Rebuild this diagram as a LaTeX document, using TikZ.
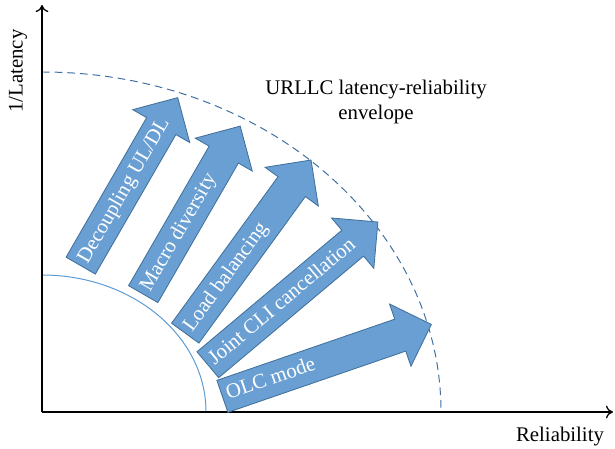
\documentclass[tikz,border=0pt]{standalone}
\usepackage{fontspec}
\setmainfont{Liberation Serif}
\usetikzlibrary{shapes.arrows,arrows.meta}

\definecolor{arrowfill}{HTML}{6A9FD3}
\definecolor{arrowedge}{HTML}{41719C}
\definecolor{envline}{HTML}{3E6FA3}
\definecolor{innerline}{HTML}{5B9BD5}

\tikzset{
  axis/.style={line width=0.9pt,-{To[length=5pt,width=9pt]}},
  bigarrow/.style={single arrow,draw=arrowedge,fill=arrowfill,line width=0.6pt,
    text height=11pt,text depth=3.5pt,inner xsep=0pt,inner ysep=0.157cm,
    single arrow head extend=0.4cm,anchor=tail},
  arrowtext/.style={text=white,font=\fontsize{14.8}{17}\selectfont,anchor=west,
    text height=11pt,text depth=3.5pt,inner xsep=0.125cm},
  lbl/.style={font=\fontsize{14.8}{17.8}\selectfont,align=center}
}

\begin{document}
\begin{tikzpicture}
            \useasboundingbox (-1.05,-0.925) rectangle (14.325,10.3);
            \coordinate (O) at (0,0);
            \coordinate (ytop) at (0,10.175);
            \coordinate (xend) at (14.275,0);
            % envelope and inner region
            \draw[envline,line width=0.7pt,dash pattern=on 5.5pt off 3.5pt] (0,8.5) arc[start angle=90,end angle=0,x radius=9.975,y radius=8.5];
            \draw[innerline,line width=0.7pt] (0,3.425) arc[start angle=90,end angle=0,x radius=4.1,y radius=3.425];
            % axes
            \draw[axis] (O) -- (ytop);
            \draw[axis] (O) -- (xend);
            \node[lbl,rotate=90] (ylab) at (-0.6,8.525) {1/Latency};
            \node[lbl] (xlab) at (12.95,-0.625) {Reliability};
            \node[lbl] (env) at (8.35,7.75) {URLLC latency-reliability\\envelope};
            % techniques
            \node[bigarrow,rotate=60,minimum height=4.85cm] (decoup) at (0.9625,3.65) {};
            \node[bigarrow,rotate=60,minimum height=4.85cm] (macro) at (2.525,2.9375) {};
            \node[bigarrow,rotate=54,minimum height=5.35cm] (load) at (3.575,1.9625) {};
            \node[bigarrow,rotate=40,minimum height=5.55cm] (cli) at (4.1375,1.175) {};
            \node[bigarrow,rotate=19,minimum height=5.525cm] (olc) at (4.5,0.3875) {};
            \node[arrowtext,rotate=60] (decouptxt) at (decoup.tail) {Decoupling UL/DL};
            \node[arrowtext,rotate=60] (macrotxt) at (macro.tail) {Macro diversity};
            \node[arrowtext,rotate=54] (loadtxt) at (load.tail) {Load balancing};
            \node[arrowtext,rotate=40] (clitxt) at (cli.tail) {Joint CLI cancellation};
            \node[arrowtext,rotate=19] (olctxt) at (olc.tail) {OLC mode};
        \end{tikzpicture}
\end{document}
